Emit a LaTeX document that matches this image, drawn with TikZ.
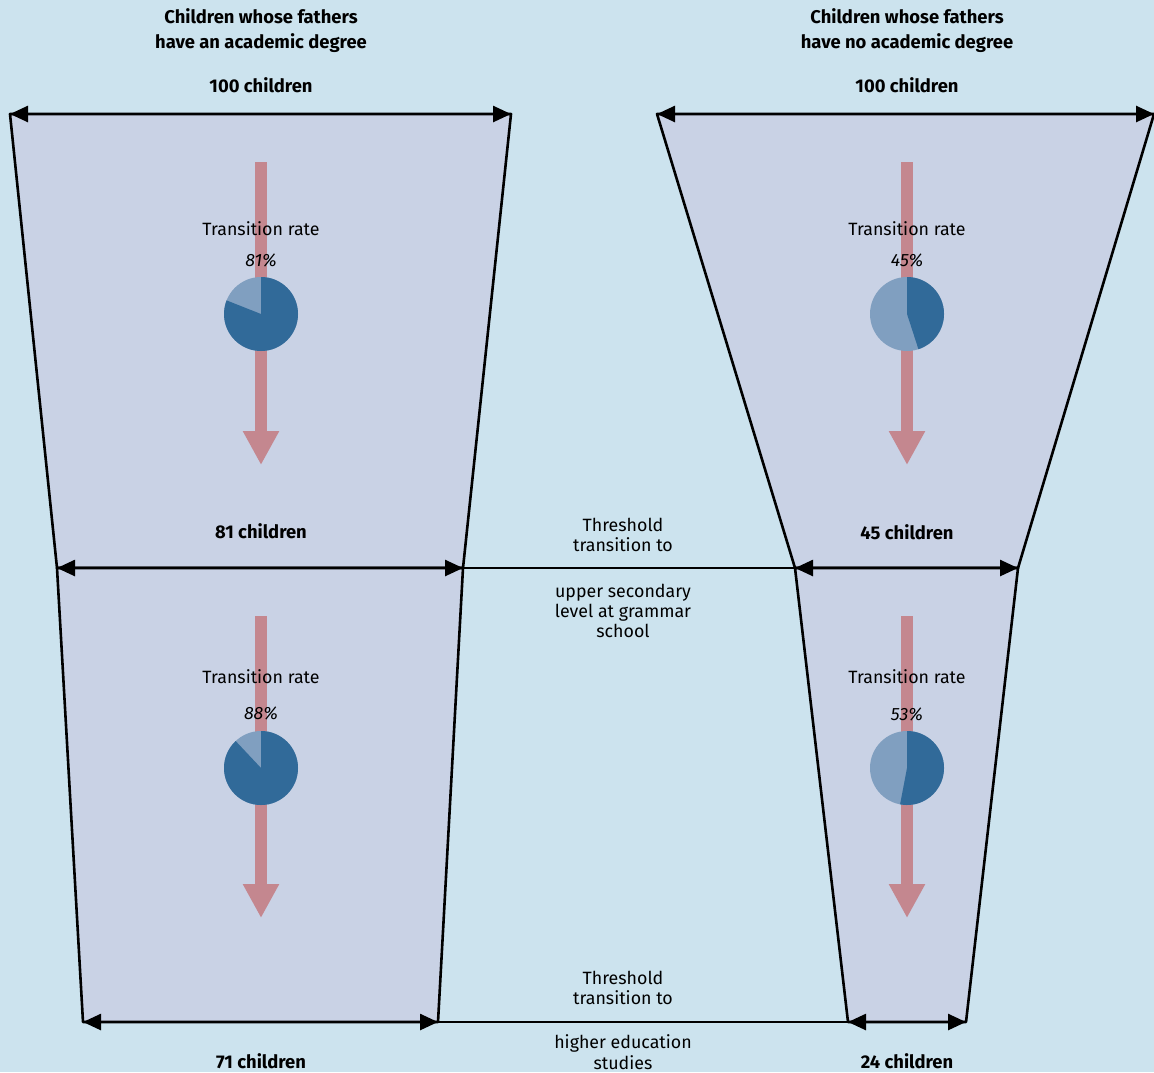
\documentclass[tikz,border=0pt]{standalone}
\usepackage{fontspec}
\setmainfont{Fira Sans}
\usetikzlibrary{arrows.meta, positioning}
\definecolor{bgblue}{RGB}{204,227,238}
\definecolor{funnel}{RGB}{201,210,229}
\definecolor{flow}{RGB}{196,135,143}
\definecolor{piedark}{RGB}{49,106,153}
\definecolor{pielight}{RGB}{128,159,192}
\tikzset{
    label text/.style={ % plain labels
        font=\fontsize{8.9}{10.2}\selectfont,
        align=center, inner sep=0pt
    },
    head text/.style={ % bold labels
        font=\fontsize{9.2}{12.5}\selectfont\bfseries,
        align=center, inner sep=0pt
    },
    rate text/.style={
        font=\fontsize{8.9}{10}\selectfont\itshape,
        inner sep=0pt
    },
    funnel part/.style={
        fill=funnel, draw=black,
        line width=1.3pt, line join=round
    },
    width arrow/.style={
        draw, line width=1.3pt,
        {Triangle[length=9pt,width=8pt]}-{Triangle[length=9pt,width=8pt]}
    },
    flow arrow/.style={
        draw=flow, line width=6pt,
        -{Triangle[length=17pt,width=17pt]}
    }
}
% pie: centre, percent
\newcommand{\ratepie}[2]{%
    \fill[pielight] (#1) circle[radius=37];
    \fill[piedark] (#1) -- ++(-90:37)
        arc[start angle=-90, end angle={-90+3.6*#2}, radius=37] -- cycle;
}

\begin{document}
\begin{tikzpicture}[x=0.5pt, y=-0.5pt]
    \fill[bgblue] (0,0) rectangle (1154,1072);
    \useasboundingbox (0,0) rectangle (1154,1072);

    % ecken links
    \coordinate (lt1) at (10,114);   \coordinate (lt2) at (511,114);
    \coordinate (lm1) at (57,568);   \coordinate (lm2) at (463,568);
    \coordinate (lb1) at (83,1022);  \coordinate (lb2) at (438,1022);
    % ecken rechts
    \coordinate (rt1) at (657,114);  \coordinate (rt2) at (1154,114);
    \coordinate (rm1) at (795,568);  \coordinate (rm2) at (1018,568);
    \coordinate (rb1) at (848,1022); \coordinate (rb2) at (966,1022);

    % trichter
    \draw[funnel part] (lt1) -- (lt2) -- (lm2) -- (lm1) -- cycle;
    \draw[funnel part] (lm1) -- (lm2) -- (lb2) -- (lb1) -- cycle;
    \draw[funnel part] (rt1) -- (rt2) -- (rm2) -- (rm1) -- cycle;
    \draw[funnel part] (rm1) -- (rm2) -- (rb2) -- (rb1) -- cycle;

    % schwellen
    \draw[line width=1.3pt] (lm2) -- (rm1);
    \draw[line width=1.3pt] (lb2) -- (rb1);

    % breiten
    \draw[width arrow] (lt1) -- (lt2);
    \draw[width arrow] (lm1) -- (lm2);
    \draw[width arrow] (lb1) -- (lb2);
    \draw[width arrow] (rt1) -- (rt2);
    \draw[width arrow] (rm1) -- (rm2);
    \draw[width arrow] (rb1) -- (rb2);

    % fluss
    \coordinate (lf1) at (261,162);  \coordinate (lf2) at (261,465);
    \coordinate (lf3) at (261,616);  \coordinate (lf4) at (261,918);
    \coordinate (rf1) at (907,162);  \coordinate (rf2) at (907,465);
    \coordinate (rf3) at (907,616);  \coordinate (rf4) at (907,918);
    \draw[flow arrow] (lf1) -- (lf2);
    \draw[flow arrow] (lf3) -- (lf4);
    \draw[flow arrow] (rf1) -- (rf2);
    \draw[flow arrow] (rf3) -- (rf4);

    % kuchen
    \coordinate (lp1) at (261,314);  \coordinate (lp2) at (261,768);
    \coordinate (rp1) at (907,314);  \coordinate (rp2) at (907,768);
    \ratepie{lp1}{81}
    \ratepie{lp2}{88}
    \ratepie{rp1}{45}
    \ratepie{rp2}{53}

    % texte links
    \node[head text] (lhead)  at (261,31)   {Children whose fathers\\have an academic degree};
    \node[head text] (lnum1)  at (261,85)   {100 children};
    \node[head text] (lnum2)  at (261,531)  {81 children};
    \node[head text] (lnum3)  at (261,1061) {71 children};
    \node[label text] (lrate1) at (261,229) {Transition rate};
    \node[rate text]  (lval1)  at (261,260) {81\%};
    \node[label text] (lrate2) at (261,677) {Transition rate};
    \node[rate text]  (lval2)  at (261,713) {88\%};
    % texte rechts
    \node[head text] (rhead)  at (907,31)   {Children whose fathers\\have no academic degree};
    \node[head text] (rnum1)  at (907,85)   {100 children};
    \node[head text] (rnum2)  at (907,532)  {45 children};
    \node[head text] (rnum3)  at (907,1061) {24 children};
    \node[label text] (rrate1) at (907,229) {Transition rate};
    \node[rate text]  (rval1)  at (907,260) {45\%};
    \node[label text] (rrate2) at (907,677) {Transition rate};
    \node[rate text]  (rval2)  at (907,714) {53\%};
    % texte mitte
    \node[label text] (thr1a) at (623,535)  {Threshold\\transition to};
    \node[label text] (thr1b) at (623,611)  {upper secondary\\level at grammar\\school};
    \node[label text] (thr2a) at (623,988)  {Threshold\\transition to};
    \node[label text] (thr2b) at (623,1052) {higher education\\studies};
\end{tikzpicture}
\end{document}
